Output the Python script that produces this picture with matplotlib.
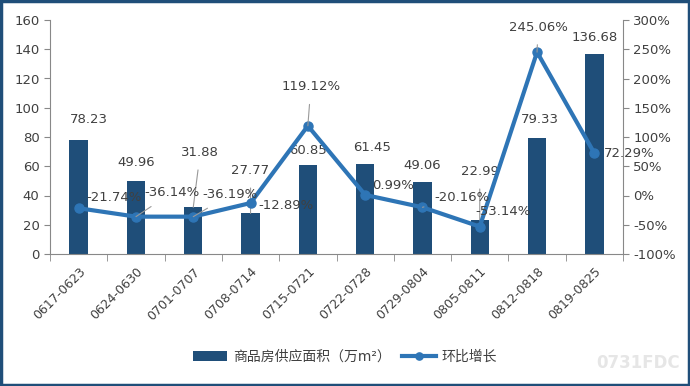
import matplotlib.pyplot as plt
import matplotlib.patches as mpatches
import numpy as np

plt.rcParams['font.family'] = ['DejaVu Sans', 'Noto Sans CJK SC']

weeks = ['0617-0623', '0624-0630', '0701-0707', '0708-0714', '0715-0721',
         '0722-0728', '0729-0804', '0805-0811', '0812-0818', '0819-0825']
supply = [78.23, 49.96, 31.88, 27.77, 60.85, 61.45, 49.06, 22.99, 79.33, 136.68]
growth = [-21.74, -36.14, -36.19, -12.89, 119.12, 0.99, -20.16, -53.14, 245.06, 72.29]

# label offsets in pixels (dx, dy) and whether a leader line is drawn
bar_off = [(10, 20), (0, 18), (7, 55), (0, 43), (0, 15), (7, 17), (0, 17), (0, 49), (3, 18), (0, 17)]
bar_lead = [False, False, True, True, False, False, False, True, False, False]
line_off = [(35, 11), (36, 24), (37, 22), (35, -2), (3, 39), (28, 9), (40, 10), (23, 15), (1, 25), (35, 0)]
line_lead = [False, True, True, False, True, False, True, False, True, False]

bar_col = '#1F4E79'
line_col = '#2E75B6'
txt_col = '#404040'
px = 72 / 100

fig = plt.figure(figsize=(6.9, 3.86), dpi=100)
ax = fig.add_axes([50 / 690, 1 - 254 / 386, 573 / 690, 234 / 386])
ax2 = ax.twinx()

x = np.arange(len(weeks))
ax.bar(x, supply, width=0.32, color=bar_col, label='商品房供应面积（万m²）', zorder=2)
ax2.plot(x, growth, color=line_col, lw=3, marker='o', ms=6.5, label='环比增长', zorder=3)

ax.set_xlim(-0.5, len(weeks) - 0.5)
ax.set_ylim(0, 160)
ax.set_yticks(range(0, 161, 20))
ax2.set_ylim(-100, 300)
ax2.set_yticks(range(-100, 301, 50))
ax2.set_yticklabels([f'{v}%' for v in range(-100, 301, 50)])

ax.set_xticks(x)
ax.set_xticklabels(weeks, rotation=45, ha='right', rotation_mode='anchor')
ax.set_xticks(np.arange(-0.5, len(weeks)), minor=True)
ax.tick_params(axis='x', which='major', length=0, pad=8, labelsize=9, labelcolor=txt_col)
ax.tick_params(axis='x', which='minor', length=5, color='#888888')
ax.tick_params(axis='y', length=4, color='#888888', labelsize=9.5, labelcolor=txt_col)
ax2.tick_params(axis='y', length=4, color='#888888', labelsize=9.5, labelcolor=txt_col)

for a in (ax, ax2):
    a.spines['top'].set_visible(False)
    for s in ('left', 'right', 'bottom'):
        a.spines[s].set_color('#888888')
ax.spines['right'].set_visible(False)
ax2.spines['left'].set_visible(False)
ax2.spines['bottom'].set_visible(False)

for i, v in enumerate(supply):
    dx, dy = bar_off[i]
    ap = dict(arrowstyle='-', color='#999999', lw=0.8, shrinkA=6, shrinkB=0) if bar_lead[i] else None
    ax.annotate(f'{v:.2f}', (i, v), xytext=(dx * px, dy * px), textcoords='offset points',
                ha='center', va='center', fontsize=9.5, color=txt_col, arrowprops=ap, zorder=4)

for i, v in enumerate(growth):
    dx, dy = line_off[i]
    ap = dict(arrowstyle='-', color='#999999', lw=0.8, shrinkA=6, shrinkB=0) if line_lead[i] else None
    ax2.annotate(f'{v:.2f}%', (i, v), xytext=(dx * px, dy * px), textcoords='offset points',
                 ha='center', va='center', fontsize=9.5, color=txt_col, arrowprops=ap, zorder=4)

h1, l1 = ax.get_legend_handles_labels()
h2, l2 = ax2.get_legend_handles_labels()
fig.legend(h1 + h2, l1 + l2, loc='center', bbox_to_anchor=(0.5, 1 - 357 / 386), ncol=2,
           frameon=False, fontsize=10, labelcolor=txt_col, handlelength=2.5,
           columnspacing=0.8, handletextpad=0.4, markerscale=0.8)

fig.text(0.985, 0.06, '0731FDC', ha='right', va='center', fontsize=12, color='#e6e6e6',
         fontweight='bold')

fig.patches.append(mpatches.Rectangle((0.002, 0.003), 0.996, 0.994, transform=fig.transFigure,
                                      fill=False, edgecolor=bar_col, lw=2.5))

fig.savefig('out.png', dpi=100)
